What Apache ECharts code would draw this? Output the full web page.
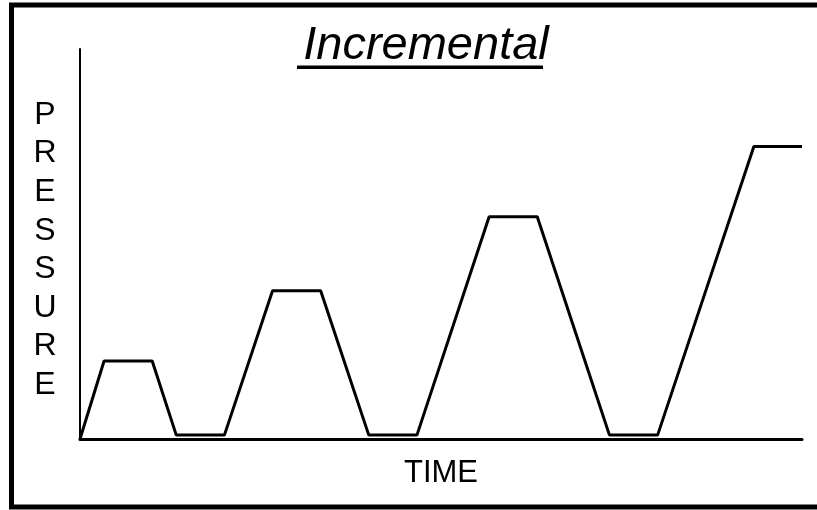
<!DOCTYPE html>
<html>
<head>
<meta charset="utf-8">
<script src="https://cdn.jsdelivr.net/npm/echarts@6/dist/echarts.min.js"></script>
<style>
  html, body { margin: 0; padding: 0; background: #fff; }
  #chart { width: 817px; height: 510px; }
</style>
</head>
<body>
<div id="chart"></div>
<script>
  // time steps of the test cycle and the pressure held at each one
  var timeValues = [0, 1, 3, 4, 6, 8, 10, 12, 14, 17, 19, 22, 24, 28, 30]
  var pressureValues = [0, 20, 20, 1, 1, 38, 38, 1, 1, 57, 57, 1, 1, 75, 75]

  var titleText = 'Incremental'
  var xName = 'TIME'
  var yName = 'PRESSURE'

  var points = timeValues.map(function (t, i) {
    return [t, pressureValues[i]]
  })

  var myChart = echarts.init(document.getElementById('chart'))
  myChart.setOption({
    animation: false,
    backgroundColor: '#fff',
    title: {
      text: titleText,
      left: 421,
      top: 17,
      textAlign: 'center',
      textStyle: {
        fontFamily: 'Liberation Sans',
        fontStyle: 'italic',
        fontWeight: 'normal',
        fontSize: 47,
        color: '#000'
      }
    },
    grid: { left: 80, right: 15, top: 49, bottom: 71 },
    xAxis: {
      type: 'value',
      min: 0,
      max: 30,
      name: xName,
      nameLocation: 'middle',
      nameGap: 19,
      nameTextStyle: {
        fontFamily: 'Liberation Sans',
        fontSize: 31,
        color: '#000',
        verticalAlign: 'top'
      },
      axisLine: { lineStyle: { color: '#000', width: 3 } },
      axisTick: { show: false },
      axisLabel: { show: false },
      splitLine: { show: false }
    },
    yAxis: {
      type: 'value',
      min: 0,
      max: 100,
      axisLine: { lineStyle: { color: '#000', width: 2 } },
      axisTick: { show: false },
      axisLabel: { show: false },
      splitLine: { show: false }
    },
    series: [{
      type: 'line',
      data: points,
      showSymbol: false,
      lineStyle: { color: '#000', width: 3 },
      z: 3
    }],
    graphic: [
      {
        // outer frame
        type: 'rect',
        shape: { x: 11.5, y: 5, width: 830, height: 502 },
        style: { fill: 'none', stroke: '#000', lineWidth: 5 }
      },
      {
        // title underline
        type: 'rect',
        shape: { x: 297, y: 65.5, width: 246, height: 3.5 },
        style: { fill: '#000' }
      },
      {
        // stacked y axis name
        type: 'text',
        x: 45,
        y: 250,
        style: {
          text: yName.split('').join('\n'),
          fontFamily: 'Liberation Sans',
          fontSize: 32,
          lineHeight: 38.6,
          fill: '#000',
          align: 'center',
          verticalAlign: 'middle'
        }
      }
    ]
  })
</script>
</body>
</html>
